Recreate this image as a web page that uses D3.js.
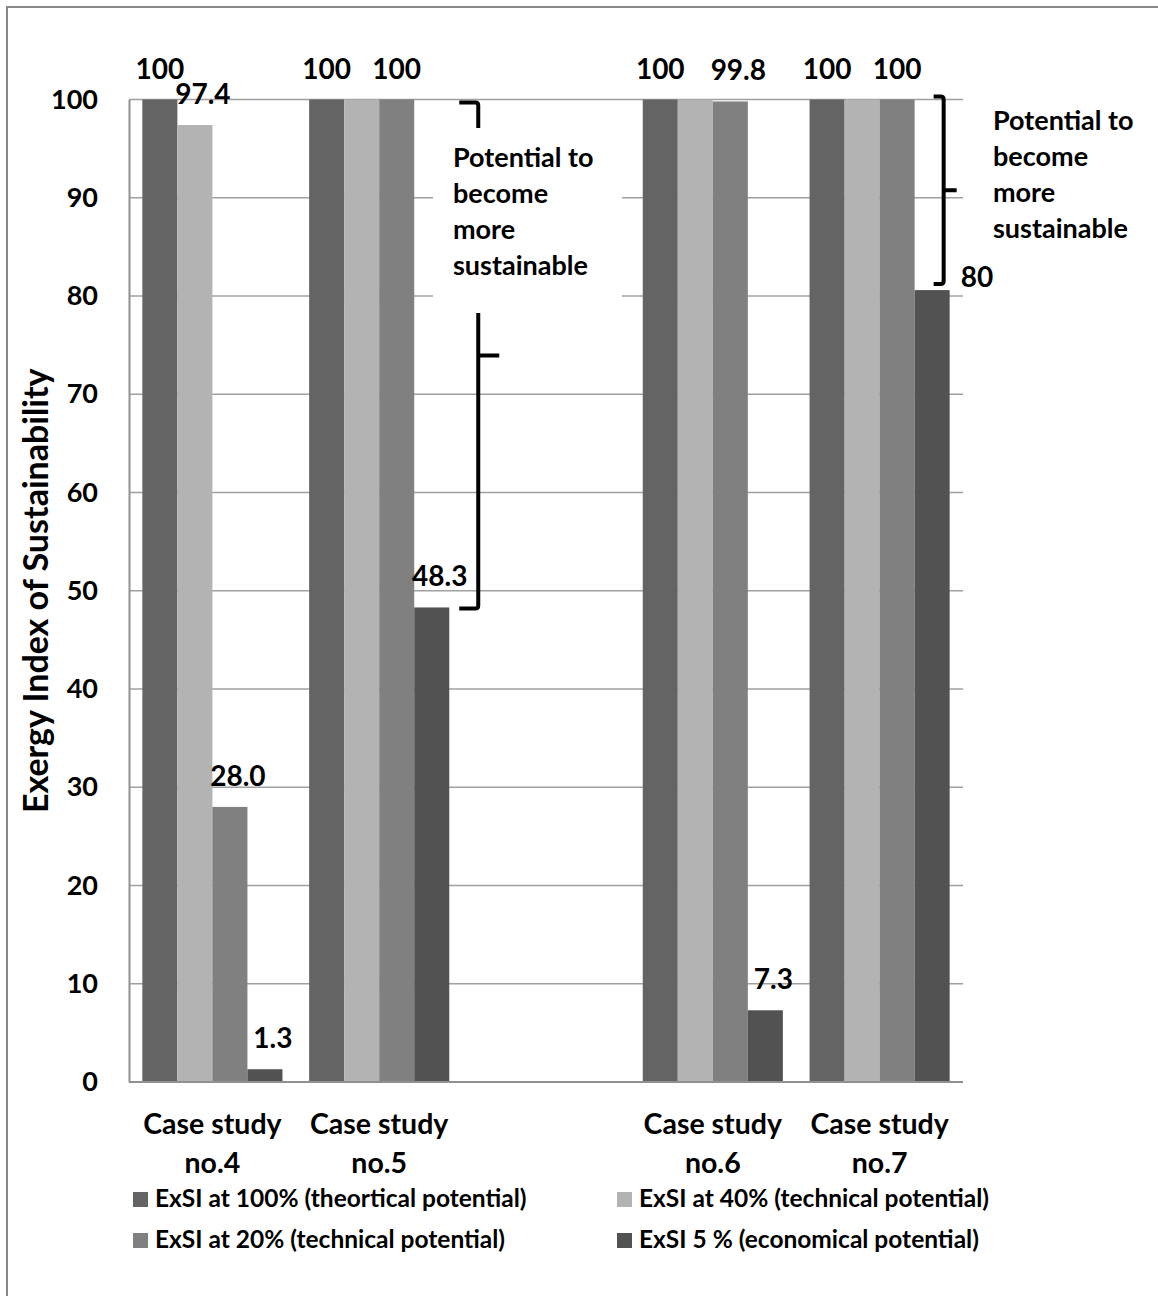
<!DOCTYPE html>
<html>
<head>
<meta charset="utf-8">
<script src="https://cdn.jsdelivr.net/npm/d3@7"></script>
<style>
  body { margin: 0; background: #fff; }
  svg { display: block; font-family: Lato, "Open Sans", sans-serif; font-weight: bold; }
</style>
</head>
<body>
<svg id="chart" width="1158" height="1296"></svg>
<script>
// categories (the third slot is an empty gap in the original chart)
var categoryKeys = ["c4", "c5", "gap", "c6", "c7"];
var categoryLine1 = ["Case study", "Case study", "", "Case study", "Case study"];
var categoryLine2 = ["no.4", "no.5", "", "no.6", "no.7"];

var seriesNames = [
    "ExSI at 100% (theortical potential)",
    "ExSI at 40% (technical potential)",
    "ExSI at 20% (technical potential)",
    "ExSI 5 % (economical potential)"
];
var seriesColors = ["#646464", "#b3b3b3", "#808080", "#525252"];

var exsi100 = [100, 100, null, 100, 100];
var exsi40 = [97.4, 100, null, 100, 100];
var exsi20 = [28.0, 100, null, 99.8, 100];
var exsi5 = [1.3, 48.3, null, 7.3, 80.6];

// data labels as printed on the chart ("" = not shown)
var label100 = ["100", "100", "", "100", "100"];
var label40 = ["97.4", "", "", "", ""];
var label20 = ["28.0", "100", "", "99.8", "100"];
var label5 = ["1.3", "48.3", "", "7.3", "80"];

var yTicks = [0, 10, 20, 30, 40, 50, 60, 70, 80, 90, 100];
var yTitle = "Exergy Index of Sustainability";
var noteLines = ["Potential to", "become", "more", "sustainable"];

var seriesValues = [exsi100, exsi40, exsi20, exsi5];
var seriesLabels = [label100, label40, label20, label5];

var svg = d3.select("#chart");

// outer frame
svg.append("rect")
    .attr("x", 7).attr("y", 7)
    .attr("width", 1200).attr("height", 1400)
    .attr("fill", "none")
    .attr("stroke", "#888").attr("stroke-width", 2);

var plotLeft = 129, plotRight = 963, plotTop = 99.5, plotBottom = 1082;

var x = d3.scaleBand()
    .domain(categoryKeys)
    .range([plotLeft, plotRight])
    .paddingInner(0.16)
    .paddingOuter(0.08);

var xs = d3.scaleBand()
    .domain(d3.range(seriesValues.length))
    .range([0, x.bandwidth()]);

var y = d3.scaleLinear().domain([0, 100]).range([plotBottom, plotTop]);

// gridlines
svg.append("g").selectAll("line")
    .data(yTicks.filter(function(d) { return d > 0; }))
    .enter().append("line")
    .attr("x1", plotLeft).attr("x2", plotRight)
    .attr("y1", function(d) { return y(d); })
    .attr("y2", function(d) { return y(d); })
    .attr("stroke", "#a0a0a0").attr("stroke-width", 1.5);

// y axis
var yAxis = svg.append("g")
    .attr("transform", "translate(" + plotLeft + ",0)")
    .call(d3.axisLeft(y).tickValues(yTicks).tickSize(0).tickPadding(31));
yAxis.select(".domain").attr("stroke", "#909090").attr("stroke-width", 2);
yAxis.selectAll("text")
    .attr("font-family", "Lato, sans-serif")
    .attr("font-weight", "bold")
    .attr("font-size", 27)
    .attr("fill", "#000");

svg.append("text")
    .attr("transform", "translate(48," + ((plotTop + plotBottom) / 2) + ") rotate(-90)")
    .attr("text-anchor", "middle")
    .attr("font-size", 34)
    .text(yTitle);

// bars
var groups = svg.append("g").selectAll("g")
    .data(seriesValues)
    .enter().append("g")
    .attr("fill", function(d, i) { return seriesColors[i]; });

groups.each(function(vals, si) {
    d3.select(this).selectAll("rect")
        .data(vals.map(function(v, ci) { return { v: v, c: categoryKeys[ci] }; })
            .filter(function(d) { return d.v !== null; }))
        .enter().append("rect")
        .attr("x", function(d) { return x(d.c) + xs(si); })
        .attr("width", xs.bandwidth())
        .attr("y", function(d) { return y(d.v); })
        .attr("height", function(d) { return y(0) - y(d.v); });
});

// bottom axis line
svg.append("line")
    .attr("x1", plotLeft).attr("x2", plotRight)
    .attr("y1", plotBottom).attr("y2", plotBottom)
    .attr("stroke", "#909090").attr("stroke-width", 2);

// data labels
var labelData = [];
seriesLabels.forEach(function(labels, si) {
    labels.forEach(function(t, ci) {
        if (t) labelData.push({ t: t, si: si, ci: ci, v: seriesValues[si][ci] });
    });
});

svg.append("g").selectAll("text")
    .data(labelData)
    .enter().append("text")
    .attr("font-size", 28)
    .attr("text-anchor", function(d) { return d.t === "80" ? "start" : "middle"; })
    .attr("x", function(d) {
        var bx = x(categoryKeys[d.ci]) + xs(d.si);
        if (d.t === "80") return bx + xs.bandwidth() + 11;
        var shift = d.t === "100" ? 0 : 8;
        return bx + xs.bandwidth() / 2 + shift;
    })
    .attr("y", function(d) {
        if (d.t === "80") return y(d.v) - 3;
        return y(d.v) - 21;
    })
    .text(function(d) { return d.t; });

// brackets: "}" from 100 down to the economical value
function bracket(xPos, yTop, yBot, hook, tick) {
    var ym = (yTop + yBot) / 2;
    var p = d3.path();
    p.moveTo(xPos - hook, yTop);
    p.lineTo(xPos - 3, yTop);
    p.quadraticCurveTo(xPos, yTop, xPos, yTop + 3);
    p.lineTo(xPos, yBot - 3);
    p.quadraticCurveTo(xPos, yBot, xPos - 3, yBot);
    p.lineTo(xPos - hook, yBot);
    p.moveTo(xPos, ym);
    p.lineTo(xPos + tick, ym);
    svg.append("path")
        .attr("d", p.toString())
        .attr("fill", "none")
        .attr("stroke", "#000")
        .attr("stroke-width", 4);
}

var b5 = x("c5") + x.bandwidth() + 29;
bracket(b5, y(100) + 3, y(exsi5[1]) + 1, 19, 21);
var b7 = x("c7") + x.bandwidth() - 6;
bracket(b7, y(100) - 3, y(exsi5[4]) - 6, 10, 13);

// note 1 sits in a white box that hides part of the bracket and gridlines
svg.append("rect")
    .attr("x", 433).attr("y", 128)
    .attr("width", 189).attr("height", 185)
    .attr("fill", "#fff");

function note(nx, ny) {
    svg.append("g").selectAll("text")
        .data(noteLines)
        .enter().append("text")
        .attr("x", nx)
        .attr("y", function(d, i) { return ny + i * 36; })
        .attr("font-size", 27)
        .text(function(d) { return d; });
}
note(453, 167);
note(993, 130);

// category labels
var cats = svg.append("g").selectAll("g")
    .data(categoryKeys.filter(function(k) { return k !== "gap"; }))
    .enter().append("g");
cats.append("text")
    .attr("x", function(d) { return x(d) + x.bandwidth() / 2; })
    .attr("y", 1134)
    .attr("text-anchor", "middle")
    .attr("font-size", 28.5)
    .text(function(d) { return categoryLine1[categoryKeys.indexOf(d)]; });
cats.append("text")
    .attr("x", function(d) { return x(d) + x.bandwidth() / 2; })
    .attr("y", 1173)
    .attr("text-anchor", "middle")
    .attr("font-size", 28.5)
    .text(function(d) { return categoryLine2[categoryKeys.indexOf(d)]; });

// legend, 2 columns
var legendX = [133, 617], legendY = [1192, 1233];
var leg = svg.append("g").selectAll("g")
    .data(seriesNames)
    .enter().append("g")
    .attr("transform", function(d, i) {
        return "translate(" + legendX[i % 2] + "," + legendY[Math.floor(i / 2)] + ")";
    });
leg.append("rect")
    .attr("width", 15).attr("height", 15)
    .attr("fill", function(d, i) { return seriesColors[i]; });
leg.append("text")
    .attr("x", 22).attr("y", 15)
    .attr("font-size", 24.5)
    .text(function(d) { return d; });
</script>
</body>
</html>
